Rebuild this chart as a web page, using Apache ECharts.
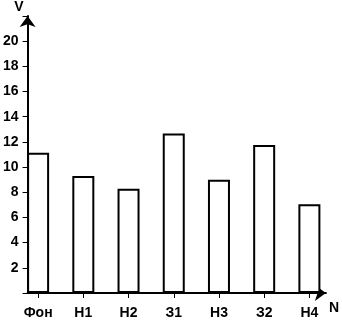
<!DOCTYPE html>
<html>
<head>
<meta charset="utf-8">
<script src="https://cdn.jsdelivr.net/npm/echarts@6/dist/echarts.min.js"></script>
<style>html,body{margin:0;padding:0;background:#fff}#c{width:342px;height:321px}</style>
</head>
<body>
<div id="c"></div>
<script>
const categories = ['Фон', 'Н1', 'Н2', 'З1', 'Н3', 'З2', 'Н4'];
const values = [10.9, 9.1, 8.1, 12.4, 8.8, 11.5, 6.9];
const yMin = 0, yMax = 22, yStep = 2;

const FONT = '"Liberation Sans", Arial, sans-serif';
const chart = echarts.init(document.getElementById('c'), null, {renderer: 'canvas'});
chart.setOption({
  animation: false,
  backgroundColor: '#fff',
  grid: [
    {left: 15.5, right: 10, top: 10, bottom: 28},
    {left: 26.5, right: 10, top: 10, bottom: 28}
  ],
  xAxis: [
    {
      gridIndex: 0, type: 'category', data: categories, boundaryGap: true,
      axisLine: {show: false},
      axisTick: {show: true, alignWithLabel: true, length: 5, lineStyle: {color: '#000', width: 1}},
      axisLabel: {color: '#000', fontFamily: FONT, fontWeight: 'bold', fontSize: 14, margin: 13}
    },
    {
      gridIndex: 1, type: 'value', min: 0, max: 1,
      axisLine: {show: true, symbol: ['none', 'arrow'], symbolSize: [12, 11], lineStyle: {color: '#000', width: 2}},
      axisTick: {show: false}, axisLabel: {show: false}, splitLine: {show: false},
      name: 'N', nameLocation: 'end', nameGap: 3,
      nameTextStyle: {color: '#000', fontFamily: FONT, fontWeight: 'bold', fontSize: 14, align: 'left', verticalAlign: 'top', padding: [8, 0, 0, 0]}
    }
  ],
  yAxis: [
    {gridIndex: 0, type: 'value', min: yMin, max: yMax, interval: yStep, show: false, splitLine: {show: false}},
    {
      gridIndex: 1, type: 'value', min: yMin, max: yMax, interval: yStep,
      axisLine: {show: true, symbol: ['none', 'arrow'], symbolSize: [12, 11], lineStyle: {color: '#000', width: 2}},
      axisTick: {show: true, length: 5, lineStyle: {color: '#000', width: 1}},
      axisLabel: {color: '#000', fontFamily: FONT, fontWeight: 'bold', fontSize: 14, margin: 9,
        formatter: v => (v === 0 || v > 20) ? '' : String(v)},
      splitLine: {show: false},
      name: 'V', nameLocation: 'end', nameGap: 2,
      nameTextStyle: {color: '#000', fontFamily: FONT, fontWeight: 'bold', fontSize: 14, align: 'right', verticalAlign: 'bottom', padding: [0, 4, 0, 0]}
    }
  ],
  series: [{
    type: 'bar', xAxisIndex: 0, yAxisIndex: 0, data: values, barWidth: 22,
    itemStyle: {color: '#fff', borderColor: '#000', borderWidth: 2}
  }]
});
</script>
</body>
</html>
